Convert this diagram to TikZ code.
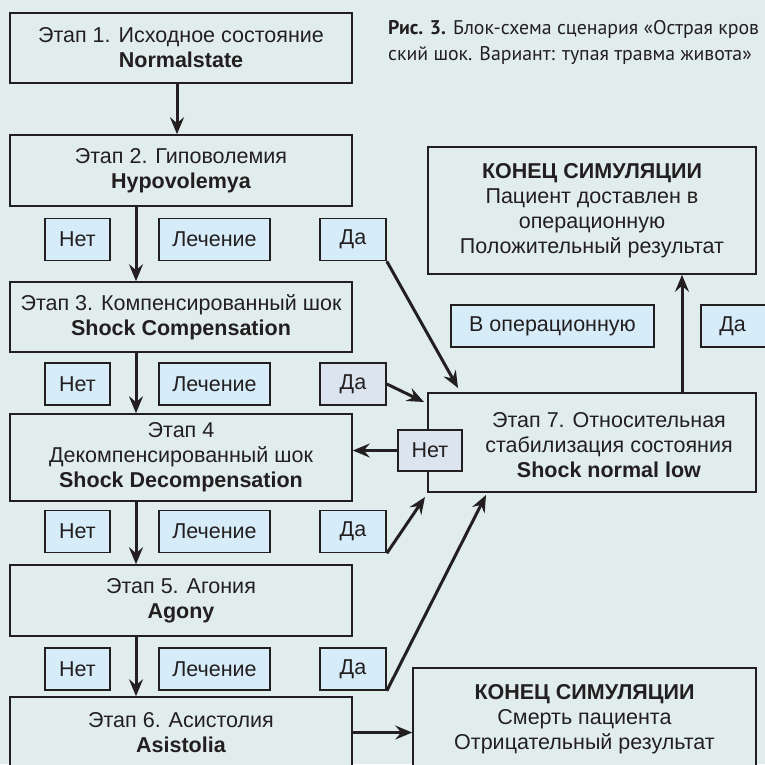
\documentclass[tikz,border=0pt]{standalone}
\usepackage{graphicx}
\usepackage{fontspec}
\setmainfont{Liberation Sans}
\newfontfamily\capfont{PT Sans}
\usetikzlibrary{arrows.meta}

\definecolor{bgcol}{RGB}{225,237,237}
\definecolor{lblue}{RGB}{214,236,248}
\definecolor{lgray}{RGB}{220,228,240}
\definecolor{ink}{RGB}{35,31,32}

\tikzset{
  stage/.style={draw=ink, line width=1.6pt, fill=bgcol, align=center, inner sep=0pt, text=ink,
    font=\fontsize{21.5}{25}\selectfont},
  tag/.style={draw=ink, line width=1.6pt, fill=lblue, minimum height=42pt, inner sep=0pt, text=ink,
    font=\fontsize{21.5}{25}\selectfont},
  tagdark/.style={tag, fill=lgray},
  arr/.style={draw=ink, line width=3pt, -{Stealth[length=17pt,width=14pt,inset=6pt]}},
}

\begin{document}
\begin{tikzpicture}[x=1pt, y=-1pt]
    \useasboundingbox (0,0) rectangle (765,764);
    \clip (0,0) rectangle (765,764);
    \fill[bgcol] (0,0) rectangle (765,764);

    % caption
    \node[anchor=west, text=ink, align=left, inner sep=0pt, font=\capfont\fontsize{19.8}{26}\selectfont] (cap) at (388,42)
        {\textbf{Рис. 3.} Блок-схема сценария «Острая кров\\
         ский шок. Вариант: тупая травма живота»};

    % stages
    \node[stage, minimum width=342pt, minimum height=70pt] (s1) at (181,48) {Этап 1. Исходное состояние\\\textbf{Normalstate}};
    \node[stage, minimum width=342pt, minimum height=71pt] (s2) at (181,170.5) {Этап 2. Гиповолемия\\\textbf{Hypovolemya}};
    \node[stage, minimum width=342pt, minimum height=70pt] (s3) at (181,317) {Этап 3. Компенсированный шок\\\textbf{Shock Compensation}};
    \node[stage, minimum width=342pt, minimum height=87pt] (s4) at (181,457.5) {Этап 4\\Декомпенсированный шок\\\textbf{Shock Decompensation}};
    \node[stage, minimum width=342pt, minimum height=71pt] (s5) at (181,600.5) {Этап 5. Агония\\\textbf{Agony}};
    \node[stage, minimum width=342pt, minimum height=71pt] (s6) at (181,732.5) {Этап 6. Асистолия\\\textbf{Asistolia}};

    \node[stage, minimum width=328pt, minimum height=99pt] (s7) at (592,442.5) {};
    \node[stage, draw=none, fill=none] (s7t) at (609,445) {Этап 7. Относительная\\стабилизация состояния\\\textbf{Shock normal low}};

    \node[stage, minimum width=328pt, minimum height=127pt] (end1) at (592,210.5)
        {\textbf{КОНЕЦ СИМУЛЯЦИИ}\\Пациент доставлен в\\операционную\\Положительный результат};
    \node[stage, minimum width=343pt, minimum height=102pt] (end2) at (584.5,719)
        {\textbf{КОНЕЦ СИМУЛЯЦИИ}\\Смерть пациента\\Отрицательный результат};

    % answers
    \foreach \r/\yy in {1/239.5, 2/384, 3/531.5, 4/669} {
        \node[tag, minimum width=65pt] (net\r) at (77.5,\yy) {Нет};
        \node[tag, minimum width=111pt] (lech\r) at (214.5,\yy) {Лечение};
    }
    \node[tag, minimum width=66pt] (da1) at (353,239.5) {Да};
    \node[tagdark, minimum width=66pt] (da2) at (353,384) {Да};
    \node[tag, minimum width=66pt] (da3) at (353,531.5) {Да};
    \node[tag, minimum width=66pt] (da4) at (353,669) {Да};
    \node[tag, minimum width=203pt] (oper) at (552.5,326) {В операционную};
    \node[tag, minimum width=75pt] (da5) at (738.5,326) {Да\hspace*{12pt}};
    \node[tagdark, minimum width=64pt, minimum height=41pt] (nn) at (430,450.5) {Нет};

    \coordinate (ax) at (136,0);
    \coordinate (upx) at (682,0);
    \coordinate (t1) at (458,388);
    \coordinate (t2) at (424,402);
    \coordinate (t3) at (425,497);
    \coordinate (t4) at (486,495);

    % arrows
    \draw[arr] (s1.south -| 177,0) -- (s2.north -| 177,0);
    \draw[arr] (s2.south -| ax) -- (s3.north -| ax);
    \draw[arr] (s3.south -| ax) -- (s4.north -| ax);
    \draw[arr] (s4.south -| ax) -- (s5.north -| ax);
    \draw[arr] (s5.south -| ax) -- (s6.north -| ax);
    \draw[arr] (s6.east) -- (s6.east -| end2.west);
    \draw[arr] (s7.north -| upx) -- (end1.south -| upx);
    \draw[arr] (nn.west) -- (nn.west -| s4.east);
    \draw[arr] (da1.south east) -- (t1);
    \draw[arr] (da2.east) -- (t2);
    \draw[arr] (da3.south east) -- (t3);
    \draw[arr] (da4.south east) -- (t4);
\end{tikzpicture}
\end{document}
